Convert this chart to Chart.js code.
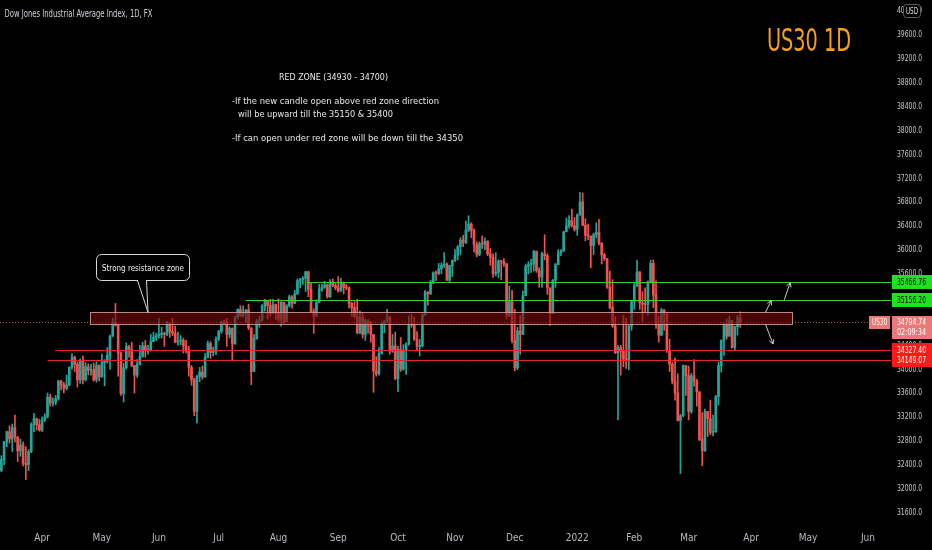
<!DOCTYPE html>
<html>
<head>
<meta charset="utf-8">
<title>US30 1D</title>
<script src="https://cdn.jsdelivr.net/npm/chart.js@4.4.0/dist/chart.umd.min.js"></script>
<style>
  html, body { margin: 0; padding: 0; background: #000; }
  #wrap { position: relative; width: 932px; height: 550px; }
</style>
</head>
<body>
<div id="wrap"><canvas id="chart"></canvas></div>
<script>
// trading calendar (weekdays) from the first candle to the end of the visible range
const startDate = "2021-03-11";
const endDate = "2022-06-13";
const monthNames = ["Jan", "Feb", "Mar", "Apr", "May", "Jun", "Jul", "Aug", "Sep", "Oct", "Nov", "Dec"];
const yTicks = [31600, 32000, 32400, 32800, 33200, 33600, 34000, 34400, 34800, 35200, 35600,
  36000, 36400, 36800, 37200, 37600, 38000, 38400, 38800, 39200, 39600, 40000];

// daily candles, one line per month (Mar 2021 .. Mar 2022)
const opens = [
  32300,32490,32780,32950,32830,33020,32860,32630,32730,32420,32400,32620,33070,33170,33070,
  32980,33150,33200,33530,33430,33450,33500,33800,33740,33680,33730,34030,34200,34080,33820,34140,33820,34040,33980,33990,33820,34060,
  33870,34110,34130,34230,34550,34780,34740,34270,33590,34020,34380,34330,34060,33900,34080,34210,34390,34310,34320,34460,34530,
  34560,34580,34600,34580,34760,34630,34600,34450,34470,34480,34390,34300,34030,33820,33290,33880,33950,33870,34200,34430,34280,34290,
  34500,34630,34790,34770,34580,34680,34420,34870,35000,34890,34930,34990,34690,33960,34510,34800,34820,35060,35140,35060,34930,35080,
  34940,34840,35120,34790,35060,35210,35100,35260,35480,35500,35520,35630,35340,34960,34890,35120,35340,35370,35410,35210,35460,35400,
  35360,35310,35440,35370,35360,35100,35030,34880,34610,34870,34580,34810,34750,34580,33970,33920,34260,34760,34800,34870,34300,34390,
  33840,34330,34000,34310,34420,34750,34740,34500,34380,34390,34910,35290,35260,35460,35610,35600,35680,35740,35760,35490,35730,
  35820,35910,36050,36160,36120,36330,36430,36320,36080,35920,36100,36090,36140,35930,35870,35600,35620,35810,35800,35760,34900,35130,
  34480,34020,34640,34580,35230,35720,35750,35760,35970,35650,35540,35930,35900,35360,34930,35490,35750,35950,35980,36300,36400,36490,36400,
  36340,36580,36800,36410,36240,36230,36070,36250,36290,36110,35910,35850,35370,35030,34720,34270,34360,34300,34170,34160,34720,
  35130,35400,35630,35110,35090,35080,35460,35770,35240,34740,34570,34990,34930,34310,34080,33800,33600,33140,33220,34060,
  33890,33290,33890,33800,33620,32820,32630,33290,33170,32940,32950,33540,34060,34480,34750,34550,34810,34360,34710,34860
];
const highs = [
  32550,32790,32960,33050,33080,33230,32870,32830,32780,32700,32650,33100,33260,33180,33160,
  33200,33250,33600,33580,33520,33560,33810,33810,33780,33900,34040,34260,34220,34120,34170,34220,34110,34090,34080,34100,34120,34070,
  34250,34160,34360,34570,34850,35100,34740,34290,34100,34440,34400,34450,34060,34160,34400,34450,34480,34400,34580,34620,34600,
  34850,34700,34620,34800,34770,34850,34720,34620,34560,34520,34480,34380,34060,33850,33900,34030,34050,34260,34470,34460,34370,34540,
  34650,34810,34820,34850,34710,34690,34890,35010,35060,35060,35000,35090,34690,34580,34830,34880,35080,35170,35150,35170,35170,35090,
  35180,35130,35120,35080,35240,35230,35320,35510,35520,35550,35640,35640,35440,35010,35160,35420,35420,35470,35420,35500,35510,35450,
  35550,35520,35460,35420,35380,35120,35130,35170,34970,34940,34840,34830,34800,34580,34210,34360,34790,34820,35000,34880,34580,34620,
  34380,34530,34410,34440,34890,34920,34870,34630,34500,34930,35320,35300,35490,35630,35640,35770,35780,35950,35780,35740,35830,
  36000,36070,36200,36240,36480,36570,36450,36350,36130,36130,36230,36200,36150,36020,35930,35950,35830,35820,35850,35770,35390,35320,
  35000,34700,34900,35310,35760,35800,35840,35990,35980,35700,35960,36250,35930,35360,35500,35770,36000,36000,36310,36530,36570,36680,36540,
  36600,36960,36950,36520,36430,36230,36280,36450,36510,36120,35940,35850,35640,35500,34880,34400,34400,34900,34850,34740,35140,
  35440,35820,35630,35300,35360,35480,35820,35830,35480,34880,35020,35000,34930,34500,34120,34190,33920,33240,34070,34060,
  34050,33930,34160,33830,33620,33270,33330,33290,33480,33230,33560,34120,34490,34770,34840,34880,34820,34720,34900,34960
];
const lows = [
  32280,32400,32700,32760,32620,32780,32450,32540,32380,32150,32300,32600,32950,32980,32960,
  32950,33120,33180,33380,33380,33400,33480,33650,33600,33650,33720,34000,33960,33700,33760,33750,33800,33900,33900,33800,33780,33800,
  33860,33720,34100,34000,34550,34720,33880,33560,33450,34000,34200,34040,33600,33860,34070,34200,34200,34250,34300,34460,34480,
  34520,34520,34380,34560,34530,34560,34440,34400,34410,34270,34270,33880,33730,33220,33100,33790,33830,33860,34190,34180,34220,34240,
  34480,34600,34740,34380,34520,34150,34420,34840,34880,34870,34780,34660,33740,33960,34500,34700,34800,34970,34840,34890,34930,34830,
  34800,34720,34770,34790,35040,35020,35100,35250,35360,35420,35300,35210,34960,34600,34880,35110,35300,35350,35190,35200,35380,35330,
  35290,35300,35260,35330,35020,34880,34860,34590,34590,34520,34480,34600,34450,33610,33880,33900,34250,34610,34790,34250,34280,33820,
  33620,33960,33980,33910,34400,34700,34480,34320,34220,34370,34900,35070,35250,35430,35480,35580,35600,35700,35480,35450,35550,
  35800,35830,35920,36050,36100,36300,36200,35960,35880,35900,36020,36000,35900,35740,35540,35560,35530,35500,35720,34840,34880,34440,
  33970,33990,34250,34580,35230,35600,35620,35640,35620,35370,35370,35830,35250,34730,34930,35370,35750,35900,35970,36300,36360,36380,36310,
  36240,36580,36400,36150,36170,35700,35920,36200,36080,35760,35820,35350,35010,34700,34260,33150,33900,34040,34010,33990,34650,
  35000,35380,35000,34800,34950,34900,35450,35030,34680,34450,34560,34650,34280,33960,33750,33480,33130,32250,33200,33560,
  33150,33260,33710,33380,32800,32380,32620,32870,32900,32880,32940,33400,33950,34230,34500,34550,34350,34310,34570,34700
];
const closes = [
  32490,32780,32950,32830,33020,32860,32630,32730,32420,32400,32620,33070,33170,33070,32980,
  33150,33200,33530,33430,33450,33500,33800,33740,33680,33730,34030,34200,34080,33820,34140,33820,34040,33980,33990,33820,34060,33870,
  34110,34130,34230,34550,34780,34740,34270,33590,34020,34380,34330,34060,33900,34080,34210,34390,34310,34320,34460,34530,34560,
  34580,34600,34580,34760,34630,34600,34450,34470,34480,34390,34300,34030,33820,33290,33880,33950,33870,34200,34430,34280,34290,34500,
  34630,34790,34770,34580,34680,34420,34870,35000,34890,34930,34990,34690,33960,34510,34800,34820,35060,35140,35060,34930,35080,34940,
  34840,35120,34790,35060,35210,35100,35260,35480,35500,35520,35630,35340,34960,34890,35120,35340,35370,35410,35210,35460,35400,35360,
  35310,35440,35370,35360,35100,35030,34880,34610,34870,34580,34810,34750,34580,33970,33920,34260,34760,34800,34870,34300,34390,33840,
  34330,34000,34310,34420,34750,34740,34500,34380,34390,34910,35290,35260,35460,35610,35600,35680,35740,35760,35490,35730,35820,
  35910,36050,36160,36120,36330,36430,36320,36080,35920,36100,36090,36140,35930,35870,35600,35620,35810,35800,35760,34900,35130,34480,
  34020,34640,34580,35230,35720,35750,35760,35970,35650,35540,35930,35900,35360,34930,35490,35750,35950,35980,36300,36400,36490,36400,36340,
  36580,36800,36410,36240,36230,36070,36250,36290,36110,35910,35850,35370,35030,34720,34270,34360,34300,34170,34160,34720,35130,
  35400,35630,35110,35090,35080,35460,35770,35240,34740,34570,34990,34930,34310,34080,33800,33600,33140,33220,34060,33890,
  33290,33890,33800,33620,32820,32630,33290,33170,32940,32950,33540,34060,34480,34750,34550,34810,34360,34710,34860,34794.74
];

// drawn levels and the red zone (prices, start candle index)
const levelPrices = [35466.76, 35156.20, 34327.40, 34149.07];
const levelStarts = [112.5, 90, 19.8, 17];
const zonePrices = [34950, 34750];
const zoneRange = [32.7, 291.3];

const upColor = "#26a69a";
const downColor = "#ef5350";
const NARROW = "'DejaVu Sans Condensed', 'Liberation Sans Narrow', 'Liberation Sans', sans-serif";
const TICK_FONT = "9.5px " + NARROW;

const dates = [];
for (let d = new Date(startDate + "T12:00:00Z"); d <= new Date(endDate + "T12:00:00Z"); d.setUTCDate(d.getUTCDate() + 1)) {
  const wd = d.getUTCDay();
  if (wd !== 0 && wd !== 6) dates.push(d.toISOString().slice(0, 10));
}

const candleColors = closes.map((c, i) => (c >= opens[i] ? upColor : downColor));

function monthLabel(i) {
  if (i === 0) return null;
  const m = +dates[i].slice(5, 7);
  if (m === +dates[i - 1].slice(5, 7)) return null;
  return m === 1 ? dates[i].slice(0, 4) : monthNames[m - 1];
}

// squeeze text horizontally to a given width (the source uses a narrow face)
function fitText(ctx, text, x, y, width, font, align) {
  ctx.save();
  ctx.font = font;
  const w = ctx.measureText(text).width;
  ctx.translate(x, y);
  ctx.scale(width / w, 1);
  ctx.textAlign = align || "left";
  ctx.fillText(text, 0, 0);
  ctx.restore();
}

function arrow(ctx, x1, y1, x2, y2) {
  const ang = Math.atan2(y2 - y1, x2 - x1);
  ctx.beginPath();
  ctx.moveTo(x1, y1);
  ctx.lineTo(x2, y2);
  ctx.moveTo(x2 - 5 * Math.cos(ang - 0.5), y2 - 5 * Math.sin(ang - 0.5));
  ctx.lineTo(x2, y2);
  ctx.lineTo(x2 - 5 * Math.cos(ang + 0.5), y2 - 5 * Math.sin(ang + 0.5));
  ctx.stroke();
}

function axisBox(ctx, x, yc, w, h, fill, text, color) {
  ctx.fillStyle = fill;
  ctx.fillRect(x, yc - h / 2, w, h);
  ctx.fillStyle = color;
  ctx.textBaseline = "middle";
  fitText(ctx, text, x + 5, yc + 0.5, 29, TICK_FONT);
}

// y tick labels are drawn by Chart.js, just narrower
const narrowAxis = {
  id: "narrowAxis",
  beforeDraw(chart) {
    const s = chart.scales.y;
    if (s._narrow) return;
    const orig = s.drawLabels;
    s.drawLabels = function (area) {
      const ctx = this.ctx;
      ctx.save();
      ctx.font = TICK_FONT;
      const k = 29 / ctx.measureText("39600.00").width;
      const x0 = this.left + 6;
      ctx.translate(x0, 0);
      ctx.scale(k, 1);
      ctx.translate(-x0, 0);
      orig.call(this, area);
      ctx.restore();
    };
    s._narrow = true;
  },
};

const overlay = {
  id: "overlay",
  afterDatasetsDraw(chart) {
    const { ctx, chartArea: a, scales: { x, y } } = chart;
    ctx.save();

    // current price dotted line
    const last = closes[closes.length - 1];
    const py = Math.round(y.getPixelForValue(last)) + 0.5;
    ctx.strokeStyle = "rgba(239,83,80,0.85)";
    ctx.setLineDash([1, 2]);
    ctx.lineWidth = 1;
    ctx.beginPath();
    ctx.moveTo(a.left, py);
    ctx.lineTo(a.right, py);
    ctx.stroke();
    ctx.setLineDash([]);

    // red zone
    const zx1 = x.getPixelForValue(zoneRange[0]);
    const zx2 = x.getPixelForValue(zoneRange[1]);
    const zy1 = y.getPixelForValue(zonePrices[0]);
    const zy2 = y.getPixelForValue(zonePrices[1]);
    ctx.fillStyle = "rgba(120,10,10,0.62)";
    ctx.fillRect(zx1, zy1, zx2 - zx1, zy2 - zy1);
    ctx.strokeStyle = "rgba(210,160,160,0.85)";
    ctx.strokeRect(Math.round(zx1) + 0.5, Math.round(zy1) + 0.5, Math.round(zx2 - zx1), Math.round(zy2 - zy1));

    // support / resistance levels
    levelPrices.forEach((p, i) => {
      const ly = Math.round(y.getPixelForValue(p)) + 0.5;
      ctx.strokeStyle = i < 2 ? "#38d038" : "#e0282d";
      ctx.beginPath();
      ctx.moveTo(x.getPixelForValue(levelStarts[i]), ly);
      ctx.lineTo(a.right, ly);
      ctx.stroke();
    });

    // arrows next to the zone
    ctx.strokeStyle = "#c8c8c8";
    arrow(ctx, x.getPixelForValue(281.3), y.getPixelForValue(34950), x.getPixelForValue(283.4), y.getPixelForValue(35150));
    arrow(ctx, x.getPixelForValue(288.2), y.getPixelForValue(35160), x.getPixelForValue(290.4), y.getPixelForValue(35450));
    arrow(ctx, x.getPixelForValue(281.3), y.getPixelForValue(34750), x.getPixelForValue(284.1), y.getPixelForValue(34420));

    // callout
    const tipX = x.getPixelForValue(54);
    const tipY = y.getPixelForValue(zonePrices[0]);
    ctx.strokeStyle = "#d8d8d8";
    ctx.fillStyle = "#000";
    ctx.beginPath();
    ctx.roundRect(96.5, 254.5, 93, 26, 5);
    ctx.fill();
    ctx.stroke();
    ctx.fillRect(138, 279, 8, 3);
    ctx.beginPath();
    ctx.moveTo(137.5, 280.5);
    ctx.lineTo(tipX, tipY);
    ctx.lineTo(146.5, 280.5);
    ctx.stroke();
    ctx.fillStyle = "#f0f0f0";
    ctx.textBaseline = "alphabetic";
    fitText(ctx, "Strong resistance zone", 143, 271, 82, "9.5px " + NARROW, "center");

    // note block
    ctx.fillStyle = "#e8e8e8";
    const nf = "9.5px " + NARROW;
    fitText(ctx, "RED ZONE (34930 - 34700)", 279, 80, 109, nf);
    fitText(ctx, "-If the new candle open above red zone direction", 232, 104, 207, nf);
    fitText(ctx, "will be upward till the 35150 & 35400", 238, 117, 155, nf);
    fitText(ctx, "-If can open under red zone will be down till the 34350", 232, 141, 231, nf);
    ctx.restore();
  },
  afterDraw(chart) {
    const { ctx, chartArea: a, scales: { y } } = chart;
    const W = chart.width;
    ctx.save();

    // price labels on the axis
    const boxFills = ["#1fe21f", "#1fe21f", "#ff1a1a", "#ff1a1a"];
    const boxText = ["#000", "#000", "#fff", "#fff"];
    levelPrices.forEach((p, i) => {
      axisBox(ctx, a.right + 1, Math.round(y.getPixelForValue(p)), W - a.right - 1, 14, boxFills[i], p.toFixed(2), boxText[i]);
    });

    const last = closes[closes.length - 1];
    const ly = Math.round(y.getPixelForValue(last));
    ctx.fillStyle = "#ec7878";
    ctx.fillRect(a.right + 1, ly - 6, W - a.right - 1, 23);
    ctx.fillRect(a.right - 22, ly - 6, 21, 13);
    ctx.fillStyle = "#fff";
    ctx.textBaseline = "middle";
    fitText(ctx, last.toFixed(2), a.right + 6, ly + 0.5, 29, TICK_FONT);
    fitText(ctx, "02:09:34", a.right + 6, ly + 11, 29, TICK_FONT);
    fitText(ctx, "US30", a.right - 19, ly + 0.5, 15, TICK_FONT);

    // currency badge
    ctx.fillStyle = "#000";
    ctx.strokeStyle = "#5d606b";
    ctx.beginPath();
    ctx.roundRect(903.5, 4.5, 17, 13, 3);
    ctx.fill();
    ctx.stroke();
    ctx.fillStyle = "#e0e0e0";
    fitText(ctx, "USD", 912, 11.5, 12, "8.5px " + NARROW, "center");

    // titles
    ctx.textBaseline = "alphabetic";
    ctx.fillStyle = "#d1d4dc";
    fitText(ctx, "Dow Jones Industrial Average Index, 1D, FX", 4.5, 17, 148, "10px " + NARROW);
    ctx.fillStyle = "#f5a11c";
    fitText(ctx, "US30 1D", 767, 51, 84, "32px " + NARROW);
    ctx.restore();
  },
};

const chart = new Chart(document.getElementById("chart"), {
  type: "bar",
  data: {
    labels: dates,
    datasets: [
      {
        label: "wick",
        data: lows.map((l, i) => [l, highs[i]]),
        backgroundColor: candleColors,
        barThickness: 1,
        grouped: false,
        order: 2,
      },
      {
        label: "body",
        data: opens.map((o, i) => [o, closes[i]]),
        backgroundColor: candleColors,
        barThickness: 2,
        minBarLength: 1,
        grouped: false,
        order: 1,
      },
    ],
  },
  options: {
    responsive: true,
    maintainAspectRatio: false,
    animation: false,
    layout: { padding: 0 },
    plugins: { legend: { display: false }, tooltip: { enabled: false } },
    scales: {
      x: {
        grid: { display: false, drawTicks: false },
        border: { display: false },
        afterFit(s) {
          s.height = 26;
          s.paddingLeft = 0;
          s.paddingRight = 0;
        },
        ticks: {
          autoSkip: false,
          maxRotation: 0,
          padding: 8,
          color: "#b8bbc4",
          font: { family: NARROW, size: 10 },
          callback: (v, i) => monthLabel(i),
        },
      },
      y: {
        position: "right",
        min: 31405,
        max: 40183,
        grid: { display: false, drawTicks: false },
        border: { display: false },
        afterFit(s) {
          s.width = 41;
          s.paddingTop = 0;
          s.paddingBottom = 0;
        },
        afterBuildTicks(s) { s.ticks = yTicks.map((v) => ({ value: v })); },
        ticks: {
          padding: 6,
          color: "#c8cad0",
          font: { family: NARROW, size: 9.5 },
          callback: (v) => v.toFixed(2),
        },
      },
    },
  },
  plugins: [narrowAxis, overlay],
});
</script>
</body>
</html>
